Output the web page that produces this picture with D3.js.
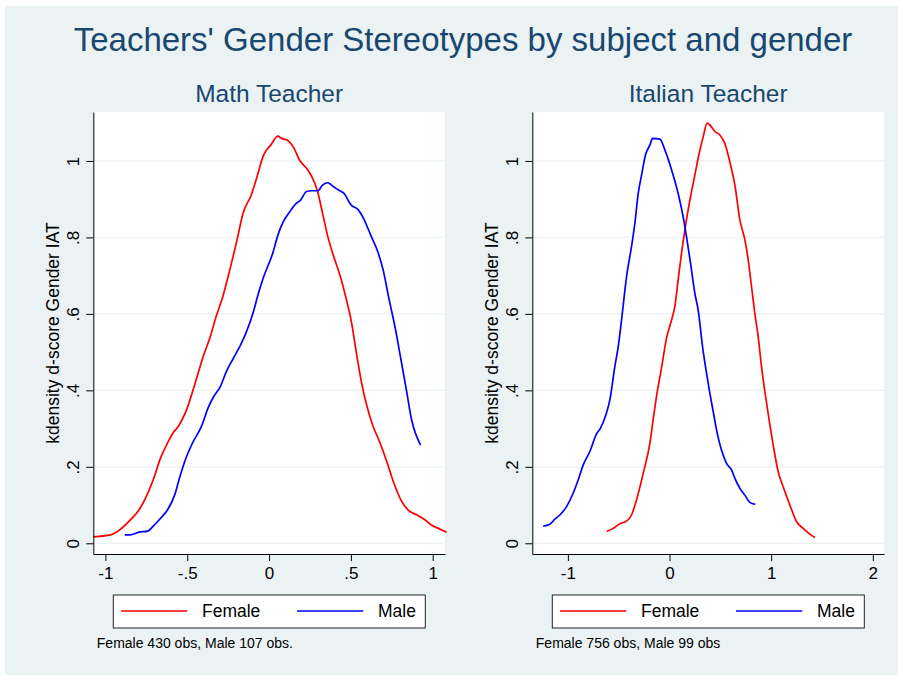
<!DOCTYPE html>
<html>
<head>
<style>
  body { margin: 0; background: #fff; }
  text { font-family: "Liberation Sans", Arial, sans-serif; }
</style>
</head>
<body>
<svg id="chart" width="903" height="681"></svg>
<script src="https://cdn.jsdelivr.net/npm/d3@7"></script>
<script>
// kdensity curves, [d-score, density]
var mathFemale = [[-1.072,0.017],[-0.969,0.022],[-0.926,0.031],[-0.839,0.065],[-0.795,0.087],[-0.741,0.131],[-0.708,0.166],[-0.664,0.222],[-0.621,0.262],[-0.588,0.288],[-0.556,0.305],[-0.501,0.353],[-0.458,0.410],[-0.403,0.488],[-0.359,0.541],[-0.327,0.588],[-0.283,0.645],[-0.240,0.715],[-0.196,0.793],[-0.159,0.863],[-0.109,0.911],[-0.076,0.955],[-0.033,1.016],[0.011,1.042],[0.054,1.065],[0.076,1.059],[0.109,1.055],[0.153,1.033],[0.185,1.003],[0.229,0.981],[0.261,0.959],[0.294,0.924],[0.327,0.863],[0.359,0.802],[0.392,0.754],[0.436,0.697],[0.468,0.645],[0.501,0.584],[0.534,0.497],[0.566,0.418],[0.599,0.357],[0.632,0.310],[0.675,0.266],[0.719,0.214],[0.763,0.157],[0.806,0.113],[0.850,0.087],[0.904,0.074],[0.948,0.063],[0.991,0.048],[1.035,0.039],[1.085,0.029]];
var mathMale = [[-0.882,0.022],[-0.850,0.022],[-0.795,0.029],[-0.741,0.032],[-0.708,0.045],[-0.664,0.065],[-0.621,0.087],[-0.577,0.126],[-0.545,0.174],[-0.512,0.218],[-0.468,0.262],[-0.414,0.305],[-0.370,0.357],[-0.338,0.384],[-0.298,0.410],[-0.261,0.449],[-0.218,0.484],[-0.174,0.519],[-0.142,0.549],[-0.098,0.602],[-0.065,0.654],[-0.033,0.697],[0.022,0.758],[0.054,0.806],[0.087,0.841],[0.120,0.863],[0.163,0.888],[0.190,0.896],[0.229,0.920],[0.261,0.922],[0.298,0.922],[0.327,0.937],[0.359,0.943],[0.392,0.933],[0.425,0.924],[0.458,0.915],[0.501,0.885],[0.545,0.872],[0.577,0.850],[0.621,0.806],[0.664,0.763],[0.697,0.715],[0.730,0.645],[0.773,0.558],[0.806,0.480],[0.839,0.401],[0.871,0.323],[0.926,0.257]];
var italianFemale = [[-0.620,0.031],[-0.554,0.039],[-0.489,0.051],[-0.423,0.058],[-0.374,0.074],[-0.325,0.113],[-0.259,0.183],[-0.193,0.262],[-0.161,0.323],[-0.128,0.384],[-0.079,0.458],[-0.030,0.536],[0.020,0.584],[0.052,0.619],[0.085,0.689],[0.118,0.759],[0.151,0.820],[0.207,0.907],[0.249,0.963],[0.292,1.020],[0.331,1.063],[0.370,1.099],[0.397,1.094],[0.446,1.077],[0.495,1.068],[0.544,1.046],[0.593,0.998],[0.643,0.937],[0.692,0.846],[0.741,0.794],[0.774,0.741],[0.807,0.671],[0.839,0.602],[0.872,0.541],[0.905,0.462],[0.938,0.397],[0.970,0.340],[1.020,0.257],[1.069,0.187],[1.118,0.148],[1.184,0.100],[1.249,0.057],[1.315,0.039],[1.380,0.024],[1.430,0.015]];
var italianMale = [[-1.243,0.045],[-1.177,0.050],[-1.128,0.063],[-1.079,0.074],[-1.013,0.096],[-0.948,0.131],[-0.898,0.166],[-0.849,0.205],[-0.784,0.240],[-0.718,0.286],[-0.679,0.301],[-0.626,0.336],[-0.587,0.375],[-0.538,0.462],[-0.505,0.514],[-0.472,0.584],[-0.423,0.697],[-0.374,0.776],[-0.341,0.837],[-0.308,0.915],[-0.275,0.963],[-0.236,1.016],[-0.193,1.042],[-0.167,1.059],[-0.095,1.057],[-0.046,1.029],[0.020,0.977],[0.085,0.915],[0.134,0.854],[0.167,0.802],[0.207,0.732],[0.249,0.654],[0.282,0.610],[0.325,0.514],[0.364,0.445],[0.397,0.392],[0.430,0.344],[0.469,0.288],[0.511,0.244],[0.561,0.209],[0.610,0.192],[0.643,0.170],[0.692,0.144],[0.741,0.126],[0.790,0.107],[0.843,0.102]];

var yTicks = [0, 0.2, 0.4, 0.6, 0.8, 1];
var mathXTicks = [-1, -0.5, 0, 0.5, 1];
var italianXTicks = [-1, 0, 1, 2];
var seriesNames = ["Female", "Male"];
var mathNote = "Female 430 obs, Male 107 obs.";
var italianNote = "Female 756 obs, Male 99 obs";

var svg = d3.select("#chart");
var bg = "#eaf2f3", navy = "#1a476f";
var colors = ["#ff0000", "#0000ff"];

svg.append("rect").attr("x", 5).attr("y", 6).attr("width", 893).attr("height", 669).attr("fill", bg);

svg.append("text").attr("x", 463).attr("y", 51).attr("text-anchor", "middle")
    .attr("fill", navy).style("font-size", "33px")
    .text("Teachers' Gender Stereotypes by subject and gender");

// strip leading zero like Stata does
function stataFmt(d) {
    if (d === 0) return "0";
    return String(d).replace(/^(-?)0\./, "$1.");
}

var panels = [
    { title: "Math Teacher", left: 93.3, right: 445, xdom: [-1.074, 1.075], xticks: mathXTicks, series: [mathFemale, mathMale], note: mathNote },
    { title: "Italian Teacher", left: 532.3, right: 884, xdom: [-1.35, 2.11], xticks: italianXTicks, series: [italianFemale, italianMale], note: italianNote }
];

var plotTop = 112, plotBottom = 554;

panels.forEach(function (p) {
    var x = d3.scaleLinear().domain(p.xdom).range([p.left, p.right]);
    var y = d3.scaleLinear().domain([-0.028, 1.128]).range([plotBottom, plotTop]);
    var mid = (p.left + p.right) / 2;

    svg.append("text").attr("x", mid).attr("y", 102).attr("text-anchor", "middle")
        .attr("fill", navy).style("font-size", "24.5px").text(p.title);

    svg.append("rect").attr("x", p.left).attr("y", plotTop)
        .attr("width", p.right - p.left).attr("height", plotBottom - plotTop).attr("fill", "#fff");

    // gridlines
    svg.append("g").selectAll("line").data(yTicks).join("line")
        .attr("x1", p.left).attr("x2", p.right)
        .attr("y1", function (d) { return y(d); }).attr("y2", function (d) { return y(d); })
        .attr("stroke", bg).attr("stroke-width", 1.2);

    var line = d3.line().curve(d3.curveMonotoneX)
        .x(function (d) { return x(d[0]); })
        .y(function (d) { return y(d[1]); });

    p.series.forEach(function (s, i) {
        svg.append("path").datum(s).attr("fill", "none").attr("stroke", colors[i])
            .attr("stroke-width", 1.7).attr("stroke-linejoin", "round").attr("d", line);
    });

    var xa = svg.append("g").attr("transform", "translate(0," + plotBottom + ")")
        .call(d3.axisBottom(x).tickValues(p.xticks).tickFormat(stataFmt).tickSize(7).tickPadding(6).tickSizeOuter(0));
    var ya = svg.append("g").attr("transform", "translate(" + p.left + ",0)")
        .call(d3.axisLeft(y).tickValues(yTicks).tickFormat(stataFmt).tickSize(7).tickSizeOuter(0));
    [xa, ya].forEach(function (a) {
        a.select(".domain").attr("stroke", "#000");
        a.selectAll(".tick line").attr("stroke", "#000");
        a.selectAll(".tick text").attr("fill", "#000").style("font-size", "17px")
            .style("font-family", '"Liberation Sans", Arial, sans-serif');
    });
    ya.selectAll(".tick text").attr("x", 0).attr("dy", 0).attr("text-anchor", "middle")
        .attr("transform", "translate(-14,0) rotate(-90)");

    svg.append("text").attr("transform", "translate(" + (p.left - 34) + "," + ((plotTop + plotBottom) / 2) + ") rotate(-90)")
        .attr("text-anchor", "middle").style("font-size", "17.5px").attr("fill", "#000")
        .text("kdensity d-score Gender IAT");

    // legend
    var lx = p.left + 20;
    var lg = svg.append("g").attr("transform", "translate(" + lx + ",595)");
    lg.append("rect").attr("width", 312).attr("height", 33).attr("fill", "#fff")
        .attr("stroke", "#222").attr("stroke-width", 1);
    seriesNames.forEach(function (n, i) {
        var ox = i * 176;
        lg.append("line").attr("x1", 7.7 + ox).attr("x2", 74 + ox).attr("y1", 16).attr("y2", 16)
            .attr("stroke", colors[i]).attr("stroke-width", 1.6);
        lg.append("text").attr("x", 88.7 + ox).attr("y", 22.3).style("font-size", "17.5px")
            .attr("fill", "#000").text(n);
    });

    svg.append("text").attr("x", p.left + 3.5).attr("y", 648).style("font-size", "14px")
        .attr("fill", "#000").text(p.note);
});
</script>
</body>
</html>
